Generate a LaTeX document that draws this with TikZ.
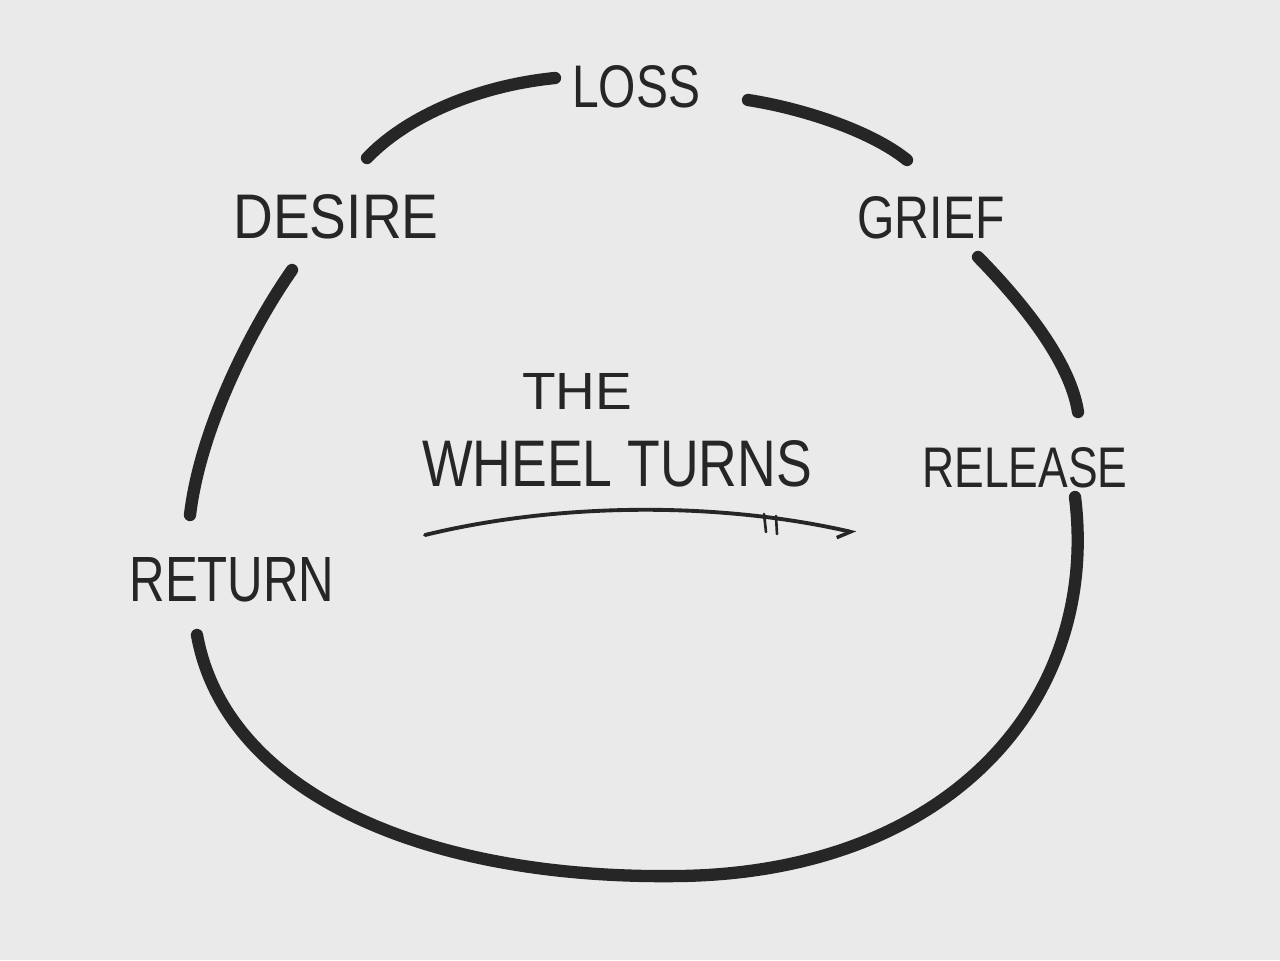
\documentclass[tikz,border=0pt]{standalone}
\usepackage{fontspec}
\setmainfont{Liberation Sans}
\usetikzlibrary{arrows.meta}
\definecolor{paper}{RGB}{234,234,234}
\definecolor{ink}{RGB}{38,38,38}
\newlength{\pxu}
\setlength{\pxu}{0.02cm}
\tikzset{
  rim/.style={draw=ink, line width=7pt, line cap=round},
  lab/.style={text=ink, inner sep=0pt, anchor=center},
  pen/.style={draw=ink, line width=2.2pt, line cap=round}
}
\newcommand{\fitlab}[3]{\resizebox{#1\pxu}{#2\pxu}{#3}}
\begin{document}
\begin{tikzpicture}[x=0.02cm, y=-0.02cm]
\fill[paper] (0,0) rectangle (1280,960);
\useasboundingbox (0,0) rectangle (1280,960);
% labels
\node[lab] (loss)    at (636,87)  {\fitlab{128}{42}{LOSS}};
\node[lab] (desire)  at (336,217) {\fitlab{205}{44}{DESIRE}};
\node[lab] (grief)   at (931,218) {\fitlab{147}{42}{GRIEF}};
\node[lab] (release) at (1025,468){\fitlab{205}{40}{RELEASE}};
\node[lab] (return)  at (232,580) {\fitlab{205}{44}{RETURN}};
\node[lab] (the)     at (577,391) {\fitlab{110}{36}{THE}};
\node[lab] (wheel)   at (617,464) {\fitlab{390}{46}{WHEEL TURNS}};
% wheel arcs
\draw[rim] (367,158) .. controls (405,118) and (475,86) .. (555,78);
\draw[rim] (748,100) .. controls (800,108) and (870,130) .. (907,160);
\draw[rim] (978,257) .. controls (1020,300) and (1070,360) .. (1078,412);
\draw[rim] (1075,497) .. controls (1100,700) and (950,872) .. (680,876)
               .. controls (420,880) and (225,790) .. (197,635);
\draw[rim] (292,270) .. controls (250,330) and (200,430) .. (190,515);
% arrow under the title
\coordinate (a0) at (425,535);
\coordinate (a1) at (856,533);
\draw[pen, -{Straight Barb[right, length=7pt, width=10pt, line width=2pt]}]
  (a0) .. controls (560,502) and (720,502) .. (a1);
\draw[pen, line width=1.5pt] (764,514) -- (766,532);
\draw[pen, line width=1.5pt] (776,516) -- (777,534);
\end{tikzpicture}
\end{document}
